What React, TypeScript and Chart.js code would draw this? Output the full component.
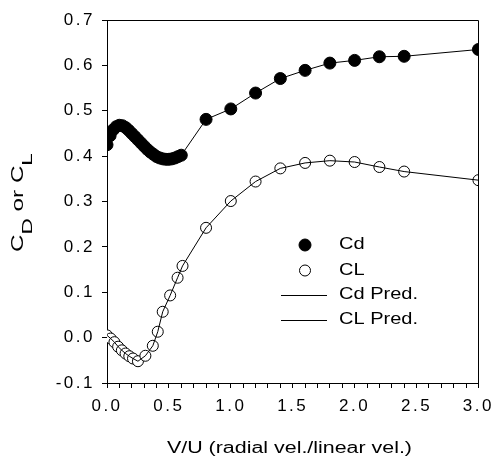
import React, { useEffect, useRef } from "react";
import { Chart, registerables } from "chart.js";

Chart.register(...registerables);

// Cd measured (filled circles)
const cdX = [0, 0.025, 0.05, 0.075, 0.1, 0.125, 0.15, 0.175, 0.2, 0.225, 0.25, 0.275, 0.3, 0.325, 0.35, 0.375, 0.4, 0.425, 0.45, 0.475, 0.5, 0.525, 0.55, 0.575, 0.6, 0.8, 1.0, 1.2, 1.4, 1.6, 1.8, 2.0, 2.2, 2.4, 3.0];
const cdY = [0.425, 0.445, 0.458, 0.465, 0.468, 0.467, 0.463, 0.457, 0.45, 0.443, 0.436, 0.429, 0.422, 0.415, 0.409, 0.404, 0.399, 0.396, 0.394, 0.393, 0.393, 0.394, 0.396, 0.399, 0.402, 0.481, 0.504, 0.539, 0.571, 0.589, 0.605, 0.611, 0.619, 0.62, 0.635];

// CL measured (open circles)
const clX = [0.0, 0.03, 0.06, 0.09, 0.12, 0.15, 0.18, 0.21, 0.25, 0.31, 0.37, 0.41, 0.45, 0.51, 0.57, 0.61, 0.8, 1.0, 1.2, 1.4, 1.6, 1.8, 2.0, 2.2, 2.4, 3.0];
const clY = [0.005, -0.002, -0.01, -0.02, -0.028, -0.035, -0.041, -0.046, -0.052, -0.04, -0.018, 0.013, 0.057, 0.093, 0.132, 0.158, 0.242, 0.301, 0.344, 0.373, 0.385, 0.39, 0.387, 0.376, 0.366, 0.347];

const legendLabels = ["Cd", "CL", "Cd Pred.", "CL Pred."];
const xTitle = "V/U (radial vel./linear vel.)";

const FONT = "Liberation Sans";

export default function App() {
  const ref = useRef<HTMLCanvasElement | null>(null);

  useEffect(() => {
    document.body.style.margin = "0";
    const canvas = ref.current!;
    const pts = (xs: number[], ys: number[]) => xs.map((x, i) => ({ x, y: ys[i] }));

    const spacingPlugin = {
      id: "spacing",
      beforeLayout(chart: any) {
        chart.ctx.letterSpacing = "2.5px";
      },
      beforeDraw(chart: any) {
        chart.ctx.letterSpacing = "2.5px";
      },
    };

    const stretchText = (ctx: CanvasRenderingContext2D, t: string, x: number, y: number, target: number) => {
      const w = ctx.measureText(t).width;
      ctx.save();
      ctx.translate(x, y);
      ctx.scale(target / w, 1);
      ctx.fillText(t, 0, 0);
      ctx.restore();
    };

    const decor = {
      id: "decor",
      afterDraw(chart: any) {
        const ctx = chart.ctx as CanvasRenderingContext2D;
        const a = chart.chartArea;
        ctx.save();
        (ctx as any).letterSpacing = "0px";
        ctx.strokeStyle = "#000";
        ctx.lineWidth = 1;
        const L = Math.round(a.left) + 0.5;
        const R = Math.round(a.right) + 0.5;
        const T = Math.round(a.top) + 0.5;
        const B = Math.round(a.bottom) + 0.5;
        // top & right frame
        ctx.beginPath();
        ctx.moveTo(L, T);
        ctx.lineTo(R, T);
        ctx.lineTo(R, B);
        ctx.stroke();

        ctx.fillStyle = "#000";
        // x title
        ctx.font = `16px '${FONT}'`;
        ctx.textBaseline = "middle";
        ctx.textAlign = "left";
        stretchText(ctx, xTitle, 167, 449, 245);

        // y title with subscripts
        const parts: [string, boolean][] = [["C", false], ["D", true], [" or ", false], ["C", false], ["L", true]];
        const mainF = `16px '${FONT}'`;
        const subF = `15px '${FONT}'`;
        let total = 0;
        const widths = parts.map(([t, sub]) => {
          ctx.font = sub ? subF : mainF;
          const w = ctx.measureText(t).width;
          total += w;
          return w;
        });
        const sx = 99 / total;
        ctx.save();
        ctx.translate(23, 202.5);
        ctx.rotate(-Math.PI / 2);
        ctx.scale(sx, 1);
        ctx.textAlign = "left";
        ctx.textBaseline = "alphabetic";
        let cx = -total / 2;
        parts.forEach(([t, sub], i) => {
          ctx.font = sub ? subF : mainF;
          ctx.fillText(t, cx, sub ? 9 : 0);
          cx += widths[i];
        });
        ctx.restore();

        // legend
        const rows = [245, 270.5, 295, 320];
        const ds = chart.data.datasets;
        const order = [2, 3, 0, 1];
        ctx.font = `16px '${FONT}'`;
        const sc = 79 / ctx.measureText(legendLabels[2]).width;
        rows.forEach((y, i) => {
          const d = ds[order[i]];
          if (i < 2) {
            ctx.beginPath();
            ctx.arc(305, y, d.pointRadius, 0, Math.PI * 2);
            ctx.fillStyle = d.pointBackgroundColor;
            ctx.fill();
            ctx.strokeStyle = "#000";
            ctx.lineWidth = 1;
            ctx.stroke();
          } else {
            ctx.beginPath();
            ctx.moveTo(281, Math.round(y) + 0.5);
            ctx.lineTo(327, Math.round(y) + 0.5);
            ctx.strokeStyle = "#000";
            ctx.lineWidth = 1;
            ctx.stroke();
          }
          ctx.fillStyle = "#000";
          ctx.font = `16px '${FONT}'`;
          ctx.textAlign = "left";
          ctx.textBaseline = "middle";
          const w = ctx.measureText(legendLabels[i]).width;
          stretchText(ctx, legendLabels[i], 339, y, w * sc);
        });
        ctx.restore();
      },
    };

    const gridOpts = {
      drawOnChartArea: false,
      drawTicks: true,
      tickLength: 5,
      color: "#000",
      tickColor: "#000",
      tickWidth: 1,
      lineWidth: 1,
    };

    const chart = new Chart(canvas, {
      type: "scatter",
      data: {
        datasets: [
          {
            label: legendLabels[2],
            data: pts(cdX, cdY),
            showLine: true,
            borderColor: "#000",
            borderWidth: 1,
            pointRadius: 0,
            fill: false,
          },
          {
            label: legendLabels[3],
            data: pts(clX, clY),
            showLine: true,
            borderColor: "#000",
            borderWidth: 1,
            pointRadius: 0,
            fill: false,
          },
          {
            label: legendLabels[0],
            data: pts(cdX, cdY),
            showLine: false,
            pointRadius: 6,
            pointBackgroundColor: "#000",
            pointBorderColor: "#000",
            pointBorderWidth: 1,
          },
          {
            label: legendLabels[1],
            data: pts(clX, clY),
            showLine: false,
            pointRadius: 5.5,
            pointBackgroundColor: "#fff",
            pointBorderColor: "#000",
            pointBorderWidth: 1,
          },
        ] as any,
      },
      options: {
        animation: false,
        responsive: false,
        devicePixelRatio: 1,
        layout: { padding: { top: 20, right: 16, left: 0, bottom: 0 } },
        plugins: { legend: { display: false }, tooltip: { enabled: false } },
        scales: {
          x: {
            type: "linear",
            min: 0,
            max: 3,
            afterFit: (s: any) => {
              s.height = 83;
            },
            grid: gridOpts,
            border: { display: true, color: "#000", width: 1 },
            ticks: {
              stepSize: 0.1,
              autoSkip: false,
              maxRotation: 0,
              padding: 8,
              color: "#000",
              font: { family: FONT, size: 17 },
              callback: (v: any) => {
                const n = Math.round(Number(v) * 10);
                return n % 5 === 0 ? (n / 10).toFixed(1) : "";
              },
            },
          },
          y: {
            type: "linear",
            min: -0.1,
            max: 0.7,
            afterFit: (s: any) => {
              s.width = 107;
            },
            grid: gridOpts,
            border: { display: true, color: "#000", width: 1 },
            ticks: {
              stepSize: 0.1,
              autoSkip: false,
              padding: 7,
              color: "#000",
              font: { family: FONT, size: 17 },
              callback: (v: any) => {
                const n = Math.round(Number(v) * 10);
                return (n / 10).toFixed(1);
              },
            },
          },
        },
      },
      plugins: [spacingPlugin, decor],
    });
    return () => chart.destroy();
  }, []);

  return (
    <div style={{ position: "absolute", left: 0, top: 0, width: 502, height: 466 }}>
      <canvas ref={ref} width={502} height={466} style={{ width: 502, height: 466, display: "block" }} />
    </div>
  );
}
